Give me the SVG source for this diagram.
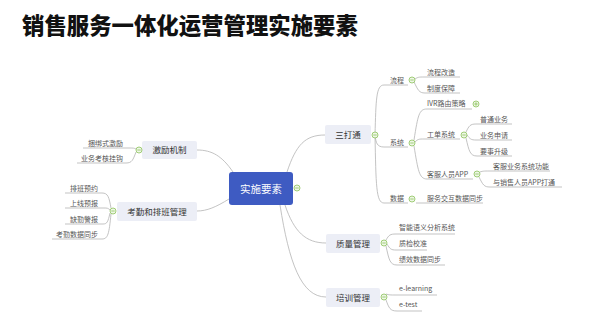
<svg xmlns="http://www.w3.org/2000/svg" width="603" height="334" viewBox="0 0 603 334">
<style>
.title{font-family:"Noto Sans CJK SC","Noto Sans",sans-serif;font-size:22.4px;font-weight:900;fill:#111}
.ln{fill:none;stroke:#b4b4b4;stroke-width:0.8}
.leaf{font-family:"Noto Sans CJK SC","Liberation Sans",sans-serif;font-size:7px;fill:#555}
.main{font-family:"Noto Sans CJK SC","Liberation Sans",sans-serif;font-size:8.5px;fill:#333;text-anchor:middle}
.box{fill:#eceef6}
.tg{fill:#eef7e6;stroke:#8cc15a;stroke-width:0.8}
.tm{stroke:#8cc15a;stroke-width:0.8}
.end{text-anchor:end}
</style>
<rect width="603" height="334" fill="#ffffff"/>
<text class="title" x="22" y="34">销售服务一体化运营管理实施要素</text>

<g id="connectors">
<path class="ln" d="M287,172 C296,145 305,135 325,135"/>
<path class="ln" d="M233,172 C222,156 212,150 197,150"/>
<path class="ln" d="M229,199 C216,207 207,211 197,211"/>
<path class="ln" d="M285,205 C294,232 306,243 326,243"/>
<path class="ln" d="M280,205 C289,262 301,297 326,297"/>
<path class="ln" d="M375,135 C376,100 376,85 384,85 L408,85"/>
<path class="ln" d="M375,135 C376,143 377,147 384,147 L408,147"/>
<path class="ln" d="M375,135 C376,185 376,203 384,203 L408,203"/>
<path class="ln" d="M415,79 C418,77 419,77 424,77 L460,77"/>
<path class="ln" d="M414,82 C418,90 419,93 425,93 L460,93"/>
<path class="ln" d="M414,140 C418,115 419,109 427,109 L472,109"/>
<path class="ln" d="M415,142 C418,139 419,139 424,139 L460,139"/>
<path class="ln" d="M414,146 C418,170 419,179 427,179 L473,179"/>
<path class="ln" d="M466,132 C469,126 470,124 476,124 L512,124"/>
<path class="ln" d="M467,135 C470,139 471,140 476,140 L512,140"/>
<path class="ln" d="M466,138 C469,151 470,156 477,156 L512,156"/>
<path class="ln" d="M480,172 C483,171 484,171 489,171 L550,171"/>
<path class="ln" d="M479,177 C483,185 484,187 490,187 L562,187"/>
<path class="ln" d="M416,203 L483,203"/>
<path class="ln" d="M386,240 C389,235 390,234 396,234 L455,234"/>
<path class="ln" d="M387,244 C390,249 391,250 396,250 L427,250"/>
<path class="ln" d="M386,246 C389,260 390,265 397,265 L445,265"/>
<path class="ln" d="M386,294 C389,295 390,295 396,295 L437,295"/>
<path class="ln" d="M386,300 C389,308 390,311 397,311 L422,311"/>
<path class="ln" d="M136,149 C134,148 133,148 130,148 L83,148"/>
<path class="ln" d="M136,152 C133,160 132,163 126,163 L77,163"/>
<path class="ln" d="M111,208 C109,197 108,193 102,193 L65,193"/>
<path class="ln" d="M110,210 C108,208 107,208 104,208 L65,208"/>
<path class="ln" d="M110,213 C108,222 107,224 103,224 L65,224"/>
<path class="ln" d="M111,214 C109,234 108,239 102,239 L52,239"/>
</g>

<g id="node-center">
<rect x="229" y="172" width="64" height="33" rx="3" fill="#3e5bc2"/>
<text x="261" y="192.5" font-family="Noto Sans CJK SC, sans-serif" font-size="10.5" fill="#ffffff" text-anchor="middle">实施要素</text>
<circle class="tg" cx="297" cy="188" r="3"/><line class="tm" x1="295.3" y1="188" x2="298.7" y2="188"/>
</g>

<g id="node-santong">
<rect class="box" x="325" y="125" width="46" height="19" rx="2"/>
<text class="main" x="348" y="137.5">三打通</text>
<circle class="tg" cx="375" cy="135" r="3"/><line class="tm" x1="373.3" y1="135" x2="376.7" y2="135"/>
</g>
<g id="node-liucheng">
<text class="leaf" x="390" y="82.5">流程</text>
<circle class="tg" cx="412" cy="80" r="3"/><line class="tm" x1="410.3" y1="80" x2="413.7" y2="80"/>
</g>
<g id="node-liuchenggaizao"><text class="leaf" x="427" y="74.5">流程改造</text></g>
<g id="node-zhidubaozhang"><text class="leaf" x="427" y="90.5">制度保障</text></g>
<g id="node-xitong">
<text class="leaf" x="390" y="145">系统</text>
<circle class="tg" cx="412" cy="143" r="3"/><line class="tm" x1="410.3" y1="143" x2="413.7" y2="143"/>
</g>
<g id="node-ivr">
<text class="leaf" x="427" y="105.5">IVR路由策略</text>
<circle class="tg" cx="476" cy="104" r="3"/><line class="tm" x1="474.3" y1="104" x2="477.7" y2="104"/><line class="tm" x1="476" y1="102.3" x2="476" y2="105.7"/>
</g>
<g id="node-gongdan">
<text class="leaf" x="427" y="136.5">工单系统</text>
<circle class="tg" cx="464" cy="135" r="3"/><line class="tm" x1="462.3" y1="135" x2="465.7" y2="135"/>
</g>
<g id="node-putong"><text class="leaf" x="480" y="121.5">普通业务</text></g>
<g id="node-shenqing"><text class="leaf" x="480" y="137.5">业务申请</text></g>
<g id="node-yaoshi"><text class="leaf" x="480" y="153.5">要事升级</text></g>
<g id="node-kefuapp">
<text class="leaf" x="427" y="176.5">客服人员APP</text>
<circle class="tg" cx="477" cy="174" r="3"/><line class="tm" x1="475.3" y1="174" x2="478.7" y2="174"/>
</g>
<g id="node-kefuyewu"><text class="leaf" x="493" y="168.5">客服业务系统功能</text></g>
<g id="node-xiaoshouapp"><text class="leaf" x="493" y="184.5">与销售人员APP打通</text></g>
<g id="node-shuju">
<text class="leaf" x="390" y="200.5">数据</text>
<circle class="tg" cx="412" cy="199" r="3"/><line class="tm" x1="410.3" y1="199" x2="413.7" y2="199"/>
</g>
<g id="node-fuwujiaohu"><text class="leaf" x="427" y="200.5">服务交互数据同步</text></g>

<g id="node-zhiliang">
<rect class="box" x="326" y="234" width="54" height="19" rx="2"/>
<text class="main" x="353" y="246.5">质量管理</text>
<circle class="tg" cx="384" cy="243" r="3"/><line class="tm" x1="382.3" y1="243" x2="385.7" y2="243"/>
</g>
<g id="node-zhineng"><text class="leaf" x="399" y="230">智能语义分析系统</text></g>
<g id="node-zhijian"><text class="leaf" x="399" y="246">质检校准</text></g>
<g id="node-jixiao"><text class="leaf" x="399" y="262">绩效数据同步</text></g>

<g id="node-peixun">
<rect class="box" x="326" y="288" width="54" height="19" rx="2"/>
<text class="main" x="353" y="300.5">培训管理</text>
<circle class="tg" cx="384" cy="297" r="3"/><line class="tm" x1="382.3" y1="297" x2="385.7" y2="297"/>
</g>
<g id="node-elearning"><text class="leaf" x="399" y="291">e-learning</text></g>
<g id="node-etest"><text class="leaf" x="399" y="307">e-test</text></g>

<g id="node-jili">
<rect class="box" x="142" y="141" width="55" height="18" rx="2"/>
<text class="main" x="169.5" y="153">激励机制</text>
<circle class="tg" cx="139" cy="150" r="3"/><line class="tm" x1="137.3" y1="150" x2="140.7" y2="150"/>
</g>
<g id="node-kunbang"><text class="leaf end" x="123" y="145.5">捆绑式激励</text></g>
<g id="node-kaohe"><text class="leaf end" x="123" y="160.5">业务考核挂钩</text></g>

<g id="node-kaoqin">
<rect class="box" x="117" y="202" width="80" height="19" rx="2"/>
<text class="main" x="157" y="214.5">考勤和排班管理</text>
<circle class="tg" cx="113" cy="211" r="3"/><line class="tm" x1="111.3" y1="211" x2="114.7" y2="211"/>
</g>
<g id="node-paiban"><text class="leaf end" x="98" y="190.5">排班预约</text></g>
<g id="node-shangxian"><text class="leaf end" x="98" y="205.5">上线预报</text></g>
<g id="node-queqin"><text class="leaf end" x="98" y="221.5">缺勤警报</text></g>
<g id="node-kaoqinshuju"><text class="leaf end" x="98" y="237">考勤数据同步</text></g>
</svg>
